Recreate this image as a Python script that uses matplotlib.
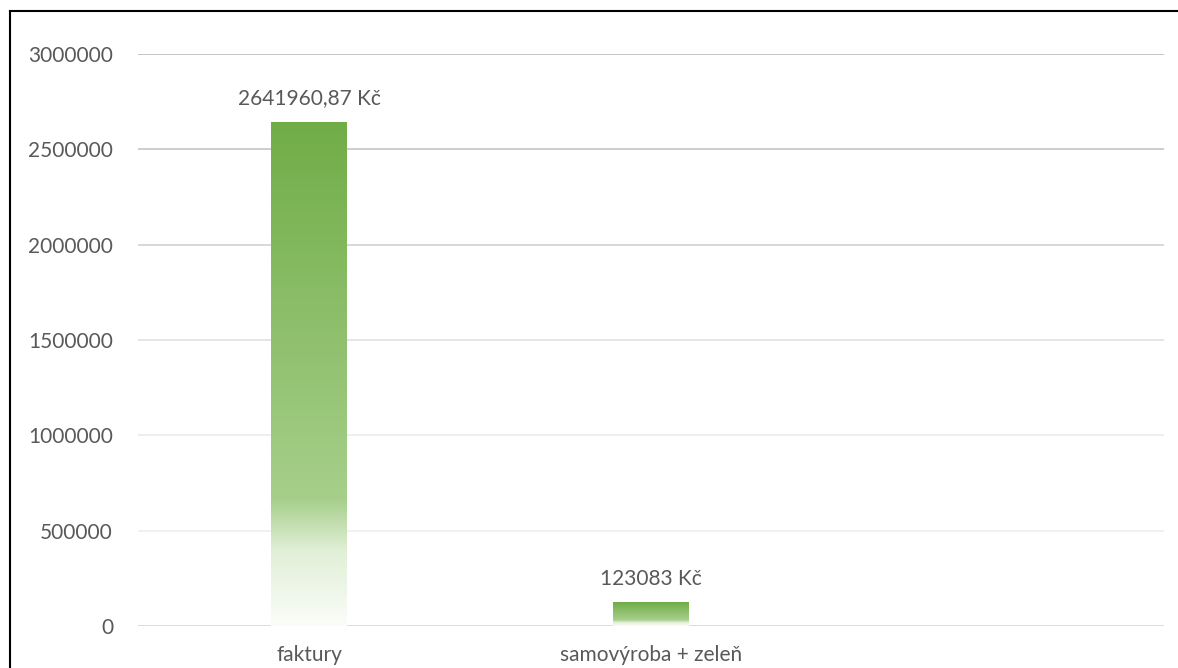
import numpy as np
import matplotlib
matplotlib.use("Agg")
from matplotlib import pyplot as plt
from matplotlib.colors import LinearSegmentedColormap
from matplotlib.lines import Line2D

categories = ["faktury", "samovýroba + zeleň", ""]
values = [2641960.87, 123083, 0]
value_labels = ["2641960,87 Kč", "123083 Kč", ""]
yticks = [0, 500000, 1000000, 1500000, 2000000, 2500000, 3000000]
grid_colors = ["#D9D9D9", "#EFEFEF", "#EDEDED", "#E3E3E3", "#D5D5D5", "#C9C9C9", "#C0C0C0"]

plt.rcParams['font.family'] = ['Lato', 'DejaVu Sans']
text_color = "#595959"

# green fading to white, top -> bottom
grad = LinearSegmentedColormap.from_list(
    "bar_grad",
    [(0.0, "#70AD47"), (0.75, "#A7CF8B"), (0.85, "#E0EFD6"), (1.0, "#FBFDF9")])

fig = plt.figure(figsize=(11.78, 6.68), dpi=100)
ax = fig.add_axes([138 / 1178, 1 - 626 / 668, (1164 - 138) / 1178, (626 - 54) / 668])

x = np.arange(len(categories))
bars = ax.bar(x, values, width=0.222, color="none", zorder=3)

img = np.linspace(0, 1, 256).reshape(-1, 1)
for b, v, lab in zip(bars, values, value_labels):
    if v <= 0:
        continue
    x0, y0 = b.get_x(), b.get_y()
    ax.imshow(img, cmap=grad, aspect="auto", zorder=3,
              extent=(x0, x0 + b.get_width(), y0, y0 + b.get_height()))
    ax.annotate(lab, (x0 + b.get_width() / 2, v), xytext=(0, 10), textcoords="offset points",
                ha="center", va="bottom", fontsize=15, color=text_color)

for t, c in zip(yticks, grid_colors):
    ax.axhline(t, color=c, linewidth=1.3, zorder=1)

ax.set_xlim(-0.5, len(categories) - 0.5)
ax.set_ylim(0, 3000000)
ax.set_yticks(yticks)
ax.set_yticklabels([str(t) for t in yticks])
ax.set_xticks(x)
ax.set_xticklabels(categories)
ax.tick_params(axis="both", length=0, labelsize=15, labelcolor=text_color)
ax.tick_params(axis="y", pad=18)
ax.tick_params(axis="x", pad=14)
for s in ax.spines.values():
    s.set_visible(False)

# chart border (only top and left visible in the crop)
fig.add_artist(Line2D([10 / 1178, 1], [1 - 11 / 668, 1 - 11 / 668], color="black", linewidth=1.5))
fig.add_artist(Line2D([10 / 1178, 10 / 1178], [0, 1 - 11 / 668], color="black", linewidth=1.5))

fig.savefig("out.png", dpi=100)
